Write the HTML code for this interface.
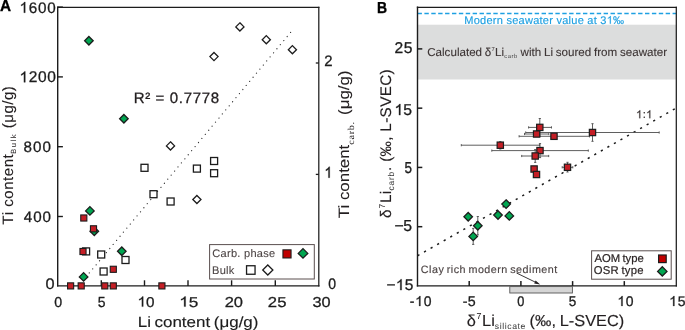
<!DOCTYPE html>
<html><head><meta charset="utf-8"><style>
html,body{margin:0;padding:0;background:#fff;}
svg{display:block;will-change:transform;}
text{font-family:"Liberation Sans", sans-serif;text-rendering:geometricPrecision;}
</style></head><body>
<svg width="685" height="330" viewBox="0 0 685 330">
<rect width="685" height="330" fill="#fff"/>
<line x1="57.70" y1="7.30" x2="318.80" y2="7.30" stroke="#1c1c1c" stroke-width="1.25" stroke-linecap="square"/>
<line x1="57.70" y1="7.30" x2="57.70" y2="285.90" stroke="#1c1c1c" stroke-width="1.4" stroke-linecap="square"/>
<line x1="318.80" y1="7.30" x2="318.80" y2="285.90" stroke="#1c1c1c" stroke-width="1.25" stroke-linecap="square"/>
<line x1="57.70" y1="285.90" x2="318.80" y2="285.90" stroke="#1c1c1c" stroke-width="1.4" stroke-linecap="square"/>
<line x1="101.30" y1="285.90" x2="101.30" y2="280.30" stroke="#1c1c1c" stroke-width="1.4" />
<line x1="144.50" y1="285.90" x2="144.50" y2="280.30" stroke="#1c1c1c" stroke-width="1.4" />
<line x1="188.00" y1="285.90" x2="188.00" y2="280.30" stroke="#1c1c1c" stroke-width="1.4" />
<line x1="231.60" y1="285.90" x2="231.60" y2="280.30" stroke="#1c1c1c" stroke-width="1.4" />
<line x1="275.30" y1="285.90" x2="275.30" y2="280.30" stroke="#1c1c1c" stroke-width="1.4" />
<line x1="57.70" y1="216.50" x2="62.90" y2="216.50" stroke="#1c1c1c" stroke-width="1.4" />
<line x1="57.70" y1="146.70" x2="62.90" y2="146.70" stroke="#1c1c1c" stroke-width="1.4" />
<line x1="57.70" y1="76.90" x2="62.90" y2="76.90" stroke="#1c1c1c" stroke-width="1.4" />
<line x1="57.70" y1="7.10" x2="62.90" y2="7.10" stroke="#1c1c1c" stroke-width="1.4" />
<line x1="318.80" y1="174.40" x2="315.80" y2="174.40" stroke="#1c1c1c" stroke-width="1.3" />
<line x1="318.80" y1="63.00" x2="315.80" y2="63.00" stroke="#1c1c1c" stroke-width="1.3" />
<line x1="290.6" y1="32.4" x2="84" y2="279.3" stroke="#333" stroke-width="1.2" stroke-linecap="round" stroke-dasharray="0.05 5.266" />
<rect x="82.60" y="247.90" width="7.00" height="7.00" fill="#fff" stroke="#1c1c1c" stroke-width="1.3"/>
<rect x="97.70" y="251.00" width="7.00" height="7.00" fill="#fff" stroke="#1c1c1c" stroke-width="1.3"/>
<rect x="122.00" y="256.50" width="7.00" height="7.00" fill="#fff" stroke="#1c1c1c" stroke-width="1.3"/>
<rect x="100.10" y="268.00" width="7.00" height="7.00" fill="#fff" stroke="#1c1c1c" stroke-width="1.3"/>
<rect x="141.00" y="164.30" width="7.00" height="7.00" fill="#fff" stroke="#1c1c1c" stroke-width="1.3"/>
<rect x="150.00" y="190.70" width="7.00" height="7.00" fill="#fff" stroke="#1c1c1c" stroke-width="1.3"/>
<rect x="167.10" y="198.00" width="7.00" height="7.00" fill="#fff" stroke="#1c1c1c" stroke-width="1.3"/>
<rect x="193.40" y="165.10" width="7.00" height="7.00" fill="#fff" stroke="#1c1c1c" stroke-width="1.3"/>
<rect x="210.60" y="157.50" width="7.00" height="7.00" fill="#fff" stroke="#1c1c1c" stroke-width="1.3"/>
<rect x="210.60" y="169.70" width="7.00" height="7.00" fill="#fff" stroke="#1c1c1c" stroke-width="1.3"/>
<path d="M170.50,141.82 L174.58,145.90 L170.50,149.98 L166.42,145.90 Z" fill="#fff" stroke="#1c1c1c" stroke-width="1.3" stroke-linejoin="miter"/>
<path d="M196.90,195.42 L200.98,199.50 L196.90,203.58 L192.82,199.50 Z" fill="#fff" stroke="#1c1c1c" stroke-width="1.3" stroke-linejoin="miter"/>
<path d="M214.00,52.52 L218.08,56.60 L214.00,60.68 L209.92,56.60 Z" fill="#fff" stroke="#1c1c1c" stroke-width="1.3" stroke-linejoin="miter"/>
<path d="M239.90,22.82 L243.98,26.90 L239.90,30.98 L235.82,26.90 Z" fill="#fff" stroke="#1c1c1c" stroke-width="1.3" stroke-linejoin="miter"/>
<path d="M266.30,35.62 L270.38,39.70 L266.30,43.78 L262.22,39.70 Z" fill="#fff" stroke="#1c1c1c" stroke-width="1.3" stroke-linejoin="miter"/>
<path d="M292.40,45.62 L296.48,49.70 L292.40,53.78 L288.32,49.70 Z" fill="#fff" stroke="#1c1c1c" stroke-width="1.3" stroke-linejoin="miter"/>
<path d="M88.90,36.52 L93.18,40.80 L88.90,45.08 L84.62,40.80 Z" fill="#00a651" stroke="#1c1c1c" stroke-width="1.3" stroke-linejoin="miter"/>
<path d="M123.90,114.52 L128.18,118.80 L123.90,123.08 L119.62,118.80 Z" fill="#00a651" stroke="#1c1c1c" stroke-width="1.3" stroke-linejoin="miter"/>
<path d="M89.90,206.62 L94.18,210.90 L89.90,215.18 L85.62,210.90 Z" fill="#00a651" stroke="#1c1c1c" stroke-width="1.3" stroke-linejoin="miter"/>
<path d="M94.30,226.92 L98.58,231.20 L94.30,235.48 L90.02,231.20 Z" fill="#00a651" stroke="#1c1c1c" stroke-width="1.3" stroke-linejoin="miter"/>
<path d="M121.80,247.02 L126.08,251.30 L121.80,255.58 L117.52,251.30 Z" fill="#00a651" stroke="#1c1c1c" stroke-width="1.3" stroke-linejoin="miter"/>
<path d="M83.60,272.62 L87.88,276.90 L83.60,281.18 L79.32,276.90 Z" fill="#00a651" stroke="#1c1c1c" stroke-width="1.3" stroke-linejoin="miter"/>
<rect x="67.55" y="282.85" width="6.10" height="6.10" fill="#c41e25" stroke="#1c1c1c" stroke-width="1.1"/>
<rect x="78.15" y="282.85" width="6.10" height="6.10" fill="#c41e25" stroke="#1c1c1c" stroke-width="1.1"/>
<rect x="101.75" y="282.85" width="6.10" height="6.10" fill="#c41e25" stroke="#1c1c1c" stroke-width="1.1"/>
<rect x="110.25" y="282.85" width="6.10" height="6.10" fill="#c41e25" stroke="#1c1c1c" stroke-width="1.1"/>
<rect x="158.85" y="282.85" width="6.10" height="6.10" fill="#c41e25" stroke="#1c1c1c" stroke-width="1.1"/>
<rect x="80.75" y="214.95" width="6.10" height="6.10" fill="#c41e25" stroke="#1c1c1c" stroke-width="1.1"/>
<rect x="90.45" y="225.75" width="6.10" height="6.10" fill="#c41e25" stroke="#1c1c1c" stroke-width="1.1"/>
<rect x="79.95" y="248.45" width="6.10" height="6.10" fill="#c41e25" stroke="#1c1c1c" stroke-width="1.1"/>
<rect x="110.25" y="266.25" width="6.10" height="6.10" fill="#c41e25" stroke="#1c1c1c" stroke-width="1.1"/>
<rect x="209.6" y="244.6" width="104.7" height="34.4" fill="#fff" stroke="#5a4f4f" stroke-width="1.0"/>
<g transform="translate(212.34,257.30) scale(1.0000,1)" fill="#4d4545" ><text x="0.00" y="0" font-size="11.04" font-weight="normal" stroke="#4d4545" stroke-width="0.100">C</text><text x="8.24" y="0" font-size="11.04" font-weight="normal" stroke="#4d4545" stroke-width="0.100">a</text><text x="14.65" y="0" font-size="11.04" font-weight="normal" stroke="#4d4545" stroke-width="0.100">r</text><text x="18.60" y="0" font-size="11.04" font-weight="normal" stroke="#4d4545" stroke-width="0.100">b</text><text x="25.01" y="0" font-size="11.04" font-weight="normal" stroke="#4d4545" stroke-width="0.100">.</text><text x="31.69" y="0" font-size="11.04" font-weight="normal" stroke="#4d4545" stroke-width="0.100">p</text><text x="38.10" y="0" font-size="11.04" font-weight="normal" stroke="#4d4545" stroke-width="0.100">h</text><text x="44.51" y="0" font-size="11.04" font-weight="normal" stroke="#4d4545" stroke-width="0.100">a</text><text x="50.92" y="0" font-size="11.04" font-weight="normal" stroke="#4d4545" stroke-width="0.100">s</text><text x="56.71" y="0" font-size="11.04" font-weight="normal" stroke="#4d4545" stroke-width="0.100">e</text></g>
<g transform="translate(211.99,273.90) scale(1.0000,1)" fill="#4d4545" ><text x="0.00" y="0" font-size="11.04" font-weight="normal" stroke="#4d4545" stroke-width="0.100">B</text><text x="7.67" y="0" font-size="11.04" font-weight="normal" stroke="#4d4545" stroke-width="0.100">u</text><text x="14.11" y="0" font-size="11.04" font-weight="normal" stroke="#4d4545" stroke-width="0.100">l</text><text x="16.87" y="0" font-size="11.04" font-weight="normal" stroke="#4d4545" stroke-width="0.100">k</text></g>
<rect x="282.95" y="249.85" width="8.10" height="8.10" fill="#c00000" stroke="#1c1c1c" stroke-width="1.1"/>
<path d="M303.00,248.62 L307.78,253.40 L303.00,258.18 L298.22,253.40 Z" fill="#00a651" stroke="#1c1c1c" stroke-width="1.3" stroke-linejoin="miter"/>
<rect x="246.55" y="265.75" width="8.50" height="8.50" fill="#fff" stroke="#1c1c1c" stroke-width="1.3"/>
<path d="M267.80,264.92 L272.88,270.00 L267.80,275.08 L262.72,270.00 Z" fill="#fff" stroke="#1c1c1c" stroke-width="1.3" stroke-linejoin="miter"/>
<g transform="translate(19.54,12.70) scale(1.0000,1)" fill="#1c1c1c" ><path d="M763 0H583V1147Q518 1085 412.5 1023Q307 961 223 930V1104Q374 1175 487 1276Q600 1377 647 1472H763Z" transform="translate(0.00,0) scale(0.00743,-0.00727)" stroke="#1c1c1c" stroke-width="0.300" vector-effect="non-scaling-stroke"/><text x="9.26" y="0" font-size="15.22" font-weight="normal" stroke="#1c1c1c" stroke-width="0.300">6</text><text x="18.53" y="0" font-size="15.22" font-weight="normal" stroke="#1c1c1c" stroke-width="0.300">0</text><text x="27.79" y="0" font-size="15.22" font-weight="normal" stroke="#1c1c1c" stroke-width="0.300">0</text></g>
<g transform="translate(19.51,82.30) scale(1.0000,1)" fill="#1c1c1c" ><path d="M763 0H583V1147Q518 1085 412.5 1023Q307 961 223 930V1104Q374 1175 487 1276Q600 1377 647 1472H763Z" transform="translate(0.00,0) scale(0.00757,-0.00740)" stroke="#1c1c1c" stroke-width="0.300" vector-effect="non-scaling-stroke"/><text x="9.29" y="0" font-size="15.50" font-weight="normal" stroke="#1c1c1c" stroke-width="0.300">2</text><text x="18.58" y="0" font-size="15.50" font-weight="normal" stroke="#1c1c1c" stroke-width="0.300">0</text><text x="27.87" y="0" font-size="15.50" font-weight="normal" stroke="#1c1c1c" stroke-width="0.300">0</text></g>
<g transform="translate(23.54,152.00) scale(1.0000,1)" fill="#1c1c1c" ><text x="0.00" y="0" font-size="15.18" font-weight="normal" stroke="#1c1c1c" stroke-width="0.300">8</text><text x="9.50" y="0" font-size="15.18" font-weight="normal" stroke="#1c1c1c" stroke-width="0.300">0</text><text x="19.01" y="0" font-size="15.18" font-weight="normal" stroke="#1c1c1c" stroke-width="0.300">0</text></g>
<g transform="translate(23.75,222.40) scale(1.0000,1)" fill="#1c1c1c" ><text x="0.00" y="0" font-size="15.18" font-weight="normal" stroke="#1c1c1c" stroke-width="0.300">4</text><text x="9.40" y="0" font-size="15.18" font-weight="normal" stroke="#1c1c1c" stroke-width="0.300">0</text><text x="18.80" y="0" font-size="15.18" font-weight="normal" stroke="#1c1c1c" stroke-width="0.300">0</text></g>
<g transform="translate(45.56,288.90) scale(1.0648,1)" fill="#1c1c1c" ><text x="0.00" y="0" font-size="15.32" font-weight="normal" stroke="#1c1c1c" stroke-width="0.282">0</text></g>
<g transform="translate(54.24,306.60) scale(0.9933,1)" fill="#1c1c1c" ><text x="0.00" y="0" font-size="14.32" font-weight="normal" stroke="#1c1c1c" stroke-width="0.302">0</text></g>
<g transform="translate(97.74,306.60) scale(0.9577,1)" fill="#1c1c1c" ><text x="0.00" y="0" font-size="14.54" font-weight="normal" stroke="#1c1c1c" stroke-width="0.313">5</text></g>
<g transform="translate(137.54,306.60) scale(1.0718,1)" fill="#1c1c1c" ><path d="M763 0H583V1147Q518 1085 412.5 1023Q307 961 223 930V1104Q374 1175 487 1276Q600 1377 647 1472H763Z" transform="translate(0.00,0) scale(0.00694,-0.00679)" stroke="#1c1c1c" stroke-width="0.300" vector-effect="non-scaling-stroke"/><text x="7.91" y="0" font-size="14.22" font-weight="normal" stroke="#1c1c1c" stroke-width="0.280">0</text></g>
<g transform="translate(179.23,306.60) scale(1.2067,1)" fill="#1c1c1c" ><path d="M763 0H583V1147Q518 1085 412.5 1023Q307 961 223 930V1104Q374 1175 487 1276Q600 1377 647 1472H763Z" transform="translate(0.00,0) scale(0.00694,-0.00679)" stroke="#1c1c1c" stroke-width="0.300" vector-effect="non-scaling-stroke"/><text x="7.91" y="0" font-size="14.22" font-weight="normal" stroke="#1c1c1c" stroke-width="0.249">5</text></g>
<g transform="translate(224.67,306.60) scale(1.1536,1)" fill="#1c1c1c" ><text x="0.00" y="0" font-size="14.32" font-weight="normal" stroke="#1c1c1c" stroke-width="0.260">2</text><text x="7.97" y="0" font-size="14.32" font-weight="normal" stroke="#1c1c1c" stroke-width="0.260">0</text></g>
<g transform="translate(267.86,306.60) scale(1.1637,1)" fill="#1c1c1c" ><text x="0.00" y="0" font-size="14.32" font-weight="normal" stroke="#1c1c1c" stroke-width="0.258">2</text><text x="7.97" y="0" font-size="14.32" font-weight="normal" stroke="#1c1c1c" stroke-width="0.258">5</text></g>
<g transform="translate(312.48,306.60) scale(1.1400,1)" fill="#1c1c1c" ><text x="0.00" y="0" font-size="14.32" font-weight="normal" stroke="#1c1c1c" stroke-width="0.263">3</text><text x="7.97" y="0" font-size="14.32" font-weight="normal" stroke="#1c1c1c" stroke-width="0.263">0</text></g>
<g transform="translate(324.15,65.90) scale(0.9832,1)" fill="#1c1c1c" ><text x="0.00" y="0" font-size="15.18" font-weight="normal" stroke="#1c1c1c" stroke-width="0.305">2</text></g>
<g transform="translate(324.33,177.70) scale(0.9297,1)" fill="#1c1c1c" ><path d="M763 0H583V1147Q518 1085 412.5 1023Q307 961 223 930V1104Q374 1175 487 1276Q600 1377 647 1472H763Z" transform="translate(0.00,0) scale(0.00757,-0.00740)" stroke="#1c1c1c" stroke-width="0.300" vector-effect="non-scaling-stroke"/></g>
<g transform="translate(328.35,289.30) scale(0.9146,1)" fill="#1c1c1c" ><text x="0.00" y="0" font-size="15.32" font-weight="normal" stroke="#1c1c1c" stroke-width="0.328">0</text></g>
<g transform="translate(133.67,102.80) scale(1.0000,1)" fill="#231f20" ><text x="0.00" y="0" font-size="15.04" font-weight="normal" stroke="#231f20" stroke-width="0.300">R</text><text x="11.50" y="0" font-size="15.04" font-weight="normal" stroke="#231f20" stroke-width="0.300">²</text><text x="21.96" y="0" font-size="15.04" font-weight="normal" stroke="#231f20" stroke-width="0.300">=</text><text x="36.20" y="0" font-size="15.04" font-weight="normal" stroke="#231f20" stroke-width="0.300">0</text><text x="45.20" y="0" font-size="15.04" font-weight="normal" stroke="#231f20" stroke-width="0.300">.</text><text x="50.02" y="0" font-size="15.04" font-weight="normal" stroke="#231f20" stroke-width="0.300">7</text><text x="59.02" y="0" font-size="15.04" font-weight="normal" stroke="#231f20" stroke-width="0.300">7</text><text x="68.02" y="0" font-size="15.04" font-weight="normal" stroke="#231f20" stroke-width="0.300">7</text><text x="77.02" y="0" font-size="15.04" font-weight="normal" stroke="#231f20" stroke-width="0.300">8</text></g>
<g transform="translate(137.71,326.60) scale(1.1392,1)" fill="#1c1c1c" ><text x="0.00" y="0" font-size="14.90" font-weight="normal" stroke="#1c1c1c" stroke-width="0.132">L</text><text x="8.29" y="0" font-size="14.90" font-weight="normal" stroke="#1c1c1c" stroke-width="0.132">i</text><text x="14.74" y="0" font-size="14.90" font-weight="normal" stroke="#1c1c1c" stroke-width="0.132">c</text><text x="22.19" y="0" font-size="14.90" font-weight="normal" stroke="#1c1c1c" stroke-width="0.132">o</text><text x="30.48" y="0" font-size="14.90" font-weight="normal" stroke="#1c1c1c" stroke-width="0.132">n</text><text x="38.77" y="0" font-size="14.90" font-weight="normal" stroke="#1c1c1c" stroke-width="0.132">t</text><text x="42.91" y="0" font-size="14.90" font-weight="normal" stroke="#1c1c1c" stroke-width="0.132">e</text><text x="51.20" y="0" font-size="14.90" font-weight="normal" stroke="#1c1c1c" stroke-width="0.132">n</text><text x="59.49" y="0" font-size="14.90" font-weight="normal" stroke="#1c1c1c" stroke-width="0.132">t</text><text x="66.77" y="0" font-size="14.90" font-weight="normal" stroke="#1c1c1c" stroke-width="0.132">(</text><text x="71.74" y="0" font-size="14.90" font-weight="normal" stroke="#1c1c1c" stroke-width="0.132">μ</text><text x="80.32" y="0" font-size="14.90" font-weight="normal" stroke="#1c1c1c" stroke-width="0.132">g</text><text x="88.61" y="0" font-size="14.90" font-weight="normal" stroke="#1c1c1c" stroke-width="0.132">/</text><text x="92.75" y="0" font-size="14.90" font-weight="normal" stroke="#1c1c1c" stroke-width="0.132">g</text><text x="101.04" y="0" font-size="14.90" font-weight="normal" stroke="#1c1c1c" stroke-width="0.132">)</text></g>
<g transform="translate(-0.08,10.90) scale(0.9690,1)" fill="#000" ><text x="0.00" y="0" font-size="15.84" font-weight="bold" stroke="#000" stroke-width="0.310">A</text></g>
<rect x="417.5" y="24.7" width="258.5" height="54.8" fill="#dcdddd"/>
<line x1="417.5" y1="13.5" x2="676.0" y2="13.5" stroke="#1ea0e2" stroke-width="1.3" stroke-dasharray="4.4 2.494"/>
<line x1="417.5" y1="255.8" x2="676.3" y2="108.0" stroke="#1c1c1c" stroke-width="1.5" stroke-dasharray="2.2 5.34"/>
<line x1="417.50" y1="7.30" x2="676.30" y2="7.30" stroke="#1c1c1c" stroke-width="1.25" stroke-linecap="square"/>
<line x1="417.50" y1="7.30" x2="417.50" y2="285.90" stroke="#1c1c1c" stroke-width="1.4" stroke-linecap="square"/>
<line x1="676.30" y1="7.30" x2="676.30" y2="285.90" stroke="#1c1c1c" stroke-width="1.25" stroke-linecap="square"/>
<line x1="417.50" y1="285.90" x2="676.30" y2="285.90" stroke="#1c1c1c" stroke-width="1.4" stroke-linecap="square"/>
<line x1="469.20" y1="285.90" x2="469.20" y2="281.10" stroke="#1c1c1c" stroke-width="1.5" />
<line x1="520.90" y1="285.90" x2="520.90" y2="281.10" stroke="#1c1c1c" stroke-width="1.5" />
<line x1="572.60" y1="285.90" x2="572.60" y2="281.10" stroke="#1c1c1c" stroke-width="1.5" />
<line x1="624.30" y1="285.90" x2="624.30" y2="281.10" stroke="#1c1c1c" stroke-width="1.5" />
<line x1="417.50" y1="226.70" x2="422.30" y2="226.70" stroke="#1c1c1c" stroke-width="1.5" />
<line x1="417.50" y1="167.43" x2="422.30" y2="167.43" stroke="#1c1c1c" stroke-width="1.5" />
<line x1="417.50" y1="108.16" x2="422.30" y2="108.16" stroke="#1c1c1c" stroke-width="1.5" />
<line x1="417.50" y1="48.89" x2="422.30" y2="48.89" stroke="#1c1c1c" stroke-width="1.5" />
<line x1="525.70" y1="132.50" x2="659.20" y2="132.50" stroke="#4d4d4d" stroke-width="0.9" />
<line x1="525.70" y1="131.40" x2="525.70" y2="133.60" stroke="#4d4d4d" stroke-width="0.9" />
<line x1="659.20" y1="131.40" x2="659.20" y2="133.60" stroke="#4d4d4d" stroke-width="0.9" />
<line x1="592.50" y1="123.70" x2="592.50" y2="141.30" stroke="#4d4d4d" stroke-width="0.9" />
<line x1="591.40" y1="123.70" x2="593.60" y2="123.70" stroke="#4d4d4d" stroke-width="0.9" />
<line x1="591.40" y1="141.30" x2="593.60" y2="141.30" stroke="#4d4d4d" stroke-width="0.9" />
<line x1="519.10" y1="136.30" x2="589.50" y2="136.30" stroke="#4d4d4d" stroke-width="0.9" />
<line x1="519.10" y1="135.20" x2="519.10" y2="137.40" stroke="#4d4d4d" stroke-width="0.9" />
<line x1="589.50" y1="135.20" x2="589.50" y2="137.40" stroke="#4d4d4d" stroke-width="0.9" />
<line x1="524.50" y1="134.00" x2="548.80" y2="134.00" stroke="#4d4d4d" stroke-width="0.9" />
<line x1="524.50" y1="132.90" x2="524.50" y2="135.10" stroke="#4d4d4d" stroke-width="0.9" />
<line x1="548.80" y1="132.90" x2="548.80" y2="135.10" stroke="#4d4d4d" stroke-width="0.9" />
<line x1="528.60" y1="127.40" x2="551.50" y2="127.40" stroke="#4d4d4d" stroke-width="0.9" />
<line x1="528.60" y1="126.30" x2="528.60" y2="128.50" stroke="#4d4d4d" stroke-width="0.9" />
<line x1="551.50" y1="126.30" x2="551.50" y2="128.50" stroke="#4d4d4d" stroke-width="0.9" />
<line x1="539.80" y1="118.50" x2="539.80" y2="136.30" stroke="#4d4d4d" stroke-width="0.9" />
<line x1="538.70" y1="118.50" x2="540.90" y2="118.50" stroke="#4d4d4d" stroke-width="0.9" />
<line x1="538.70" y1="136.30" x2="540.90" y2="136.30" stroke="#4d4d4d" stroke-width="0.9" />
<line x1="461.30" y1="145.20" x2="539.50" y2="145.20" stroke="#4d4d4d" stroke-width="0.9" />
<line x1="461.30" y1="144.10" x2="461.30" y2="146.30" stroke="#4d4d4d" stroke-width="0.9" />
<line x1="539.50" y1="144.10" x2="539.50" y2="146.30" stroke="#4d4d4d" stroke-width="0.9" />
<line x1="500.30" y1="141.60" x2="500.30" y2="149.00" stroke="#4d4d4d" stroke-width="0.9" />
<line x1="499.20" y1="141.60" x2="501.40" y2="141.60" stroke="#4d4d4d" stroke-width="0.9" />
<line x1="499.20" y1="149.00" x2="501.40" y2="149.00" stroke="#4d4d4d" stroke-width="0.9" />
<line x1="491.80" y1="150.60" x2="588.30" y2="150.60" stroke="#4d4d4d" stroke-width="0.9" />
<line x1="491.80" y1="149.50" x2="491.80" y2="151.70" stroke="#4d4d4d" stroke-width="0.9" />
<line x1="588.30" y1="149.50" x2="588.30" y2="151.70" stroke="#4d4d4d" stroke-width="0.9" />
<line x1="540.00" y1="143.60" x2="540.00" y2="157.60" stroke="#4d4d4d" stroke-width="0.9" />
<line x1="538.90" y1="143.60" x2="541.10" y2="143.60" stroke="#4d4d4d" stroke-width="0.9" />
<line x1="538.90" y1="157.60" x2="541.10" y2="157.60" stroke="#4d4d4d" stroke-width="0.9" />
<line x1="521.70" y1="156.00" x2="548.70" y2="156.00" stroke="#4d4d4d" stroke-width="0.9" />
<line x1="521.70" y1="154.90" x2="521.70" y2="157.10" stroke="#4d4d4d" stroke-width="0.9" />
<line x1="548.70" y1="154.90" x2="548.70" y2="157.10" stroke="#4d4d4d" stroke-width="0.9" />
<line x1="535.20" y1="149.60" x2="535.20" y2="162.40" stroke="#4d4d4d" stroke-width="0.9" />
<line x1="534.10" y1="149.60" x2="536.30" y2="149.60" stroke="#4d4d4d" stroke-width="0.9" />
<line x1="534.10" y1="162.40" x2="536.30" y2="162.40" stroke="#4d4d4d" stroke-width="0.9" />
<line x1="562.20" y1="167.30" x2="572.80" y2="167.30" stroke="#4d4d4d" stroke-width="0.9" />
<line x1="562.20" y1="166.20" x2="562.20" y2="168.40" stroke="#4d4d4d" stroke-width="0.9" />
<line x1="572.80" y1="166.20" x2="572.80" y2="168.40" stroke="#4d4d4d" stroke-width="0.9" />
<line x1="567.50" y1="162.30" x2="567.50" y2="172.00" stroke="#4d4d4d" stroke-width="0.9" />
<line x1="566.40" y1="162.30" x2="568.60" y2="162.30" stroke="#4d4d4d" stroke-width="0.9" />
<line x1="566.40" y1="172.00" x2="568.60" y2="172.00" stroke="#4d4d4d" stroke-width="0.9" />
<line x1="477.80" y1="216.50" x2="477.80" y2="234.90" stroke="#4d4d4d" stroke-width="0.9" />
<line x1="476.70" y1="216.50" x2="478.90" y2="216.50" stroke="#4d4d4d" stroke-width="0.9" />
<line x1="476.70" y1="234.90" x2="478.90" y2="234.90" stroke="#4d4d4d" stroke-width="0.9" />
<line x1="473.20" y1="228.40" x2="473.20" y2="244.40" stroke="#4d4d4d" stroke-width="0.9" />
<line x1="472.10" y1="228.40" x2="474.30" y2="228.40" stroke="#4d4d4d" stroke-width="0.9" />
<line x1="472.10" y1="244.40" x2="474.30" y2="244.40" stroke="#4d4d4d" stroke-width="0.9" />
<path d="M468.20,212.52 L472.48,216.80 L468.20,221.08 L463.92,216.80 Z" fill="#00a651" stroke="#1c1c1c" stroke-width="1.3" stroke-linejoin="miter"/>
<path d="M477.80,221.42 L482.08,225.70 L477.80,229.98 L473.52,225.70 Z" fill="#00a651" stroke="#1c1c1c" stroke-width="1.3" stroke-linejoin="miter"/>
<path d="M473.20,232.12 L477.48,236.40 L473.20,240.68 L468.92,236.40 Z" fill="#00a651" stroke="#1c1c1c" stroke-width="1.3" stroke-linejoin="miter"/>
<path d="M498.00,210.72 L502.28,215.00 L498.00,219.28 L493.72,215.00 Z" fill="#00a651" stroke="#1c1c1c" stroke-width="1.3" stroke-linejoin="miter"/>
<path d="M506.10,199.82 L510.38,204.10 L506.10,208.38 L501.82,204.10 Z" fill="#00a651" stroke="#1c1c1c" stroke-width="1.3" stroke-linejoin="miter"/>
<path d="M509.30,211.62 L513.58,215.90 L509.30,220.18 L505.02,215.90 Z" fill="#00a651" stroke="#1c1c1c" stroke-width="1.3" stroke-linejoin="miter"/>
<rect x="589.35" y="129.35" width="6.30" height="6.30" fill="#c41e25" stroke="#1c1c1c" stroke-width="1.2"/>
<rect x="550.85" y="133.15" width="6.30" height="6.30" fill="#c41e25" stroke="#1c1c1c" stroke-width="1.2"/>
<rect x="533.45" y="130.85" width="6.30" height="6.30" fill="#c41e25" stroke="#1c1c1c" stroke-width="1.2"/>
<rect x="536.65" y="124.25" width="6.30" height="6.30" fill="#c41e25" stroke="#1c1c1c" stroke-width="1.2"/>
<rect x="497.15" y="142.05" width="6.30" height="6.30" fill="#c41e25" stroke="#1c1c1c" stroke-width="1.2"/>
<rect x="536.85" y="147.45" width="6.30" height="6.30" fill="#c41e25" stroke="#1c1c1c" stroke-width="1.2"/>
<rect x="532.05" y="152.85" width="6.30" height="6.30" fill="#c41e25" stroke="#1c1c1c" stroke-width="1.2"/>
<rect x="530.95" y="165.85" width="6.30" height="6.30" fill="#c41e25" stroke="#1c1c1c" stroke-width="1.2"/>
<rect x="533.35" y="171.35" width="6.30" height="6.30" fill="#c41e25" stroke="#1c1c1c" stroke-width="1.2"/>
<rect x="564.35" y="164.15" width="6.30" height="6.30" fill="#c41e25" stroke="#1c1c1c" stroke-width="1.2"/>
<rect x="509.8" y="286.6" width="62.6" height="6.4" fill="#d5d5d5" stroke="#555" stroke-width="0.9"/>
<line x1="516.50" y1="273.00" x2="537.50" y2="283.20" stroke="#231f20" stroke-width="0.9" />
<path d="M540.2,284.4 L535.6,280.6 L534.2,283.4 Z" fill="#231f20"/>
<g transform="translate(420.85,272.80) scale(1.0000,1)" fill="#4d4545" ><text x="0.00" y="0" font-size="10.76" font-weight="normal" stroke="#4d4545" stroke-width="0.150">C</text><text x="8.25" y="0" font-size="10.76" font-weight="normal" stroke="#4d4545" stroke-width="0.150">l</text><text x="11.12" y="0" font-size="10.76" font-weight="normal" stroke="#4d4545" stroke-width="0.150">a</text><text x="17.58" y="0" font-size="10.76" font-weight="normal" stroke="#4d4545" stroke-width="0.150">y</text><text x="25.90" y="0" font-size="10.76" font-weight="normal" stroke="#4d4545" stroke-width="0.150">r</text><text x="29.96" y="0" font-size="10.76" font-weight="normal" stroke="#4d4545" stroke-width="0.150">i</text><text x="32.83" y="0" font-size="10.76" font-weight="normal" stroke="#4d4545" stroke-width="0.150">c</text><text x="38.68" y="0" font-size="10.76" font-weight="normal" stroke="#4d4545" stroke-width="0.150">h</text><text x="47.61" y="0" font-size="10.76" font-weight="normal" stroke="#4d4545" stroke-width="0.150">m</text><text x="57.05" y="0" font-size="10.76" font-weight="normal" stroke="#4d4545" stroke-width="0.150">o</text><text x="63.51" y="0" font-size="10.76" font-weight="normal" stroke="#4d4545" stroke-width="0.150">d</text><text x="69.97" y="0" font-size="10.76" font-weight="normal" stroke="#4d4545" stroke-width="0.150">e</text><text x="76.44" y="0" font-size="10.76" font-weight="normal" stroke="#4d4545" stroke-width="0.150">r</text><text x="80.50" y="0" font-size="10.76" font-weight="normal" stroke="#4d4545" stroke-width="0.150">n</text><text x="89.42" y="0" font-size="10.76" font-weight="normal" stroke="#4d4545" stroke-width="0.150">s</text><text x="95.28" y="0" font-size="10.76" font-weight="normal" stroke="#4d4545" stroke-width="0.150">e</text><text x="101.74" y="0" font-size="10.76" font-weight="normal" stroke="#4d4545" stroke-width="0.150">d</text><text x="108.20" y="0" font-size="10.76" font-weight="normal" stroke="#4d4545" stroke-width="0.150">i</text><text x="111.07" y="0" font-size="10.76" font-weight="normal" stroke="#4d4545" stroke-width="0.150">m</text><text x="120.51" y="0" font-size="10.76" font-weight="normal" stroke="#4d4545" stroke-width="0.150">e</text><text x="126.97" y="0" font-size="10.76" font-weight="normal" stroke="#4d4545" stroke-width="0.150">n</text><text x="133.43" y="0" font-size="10.76" font-weight="normal" stroke="#4d4545" stroke-width="0.150">t</text></g>
<g transform="translate(636.08,118.20) scale(1.0000,1)" fill="#3a3333" ><path d="M763 0H583V1147Q518 1085 412.5 1023Q307 961 223 930V1104Q374 1175 487 1276Q600 1377 647 1472H763Z" transform="translate(0.00,0) scale(0.00549,-0.00537)" stroke="#3a3333" stroke-width="0.200" vector-effect="non-scaling-stroke"/><text x="6.58" y="0" font-size="11.24" font-weight="normal" stroke="#3a3333" stroke-width="0.200">:</text><path d="M763 0H583V1147Q518 1085 412.5 1023Q307 961 223 930V1104Q374 1175 487 1276Q600 1377 647 1472H763Z" transform="translate(10.04,0) scale(0.00549,-0.00537)" stroke="#3a3333" stroke-width="0.200" vector-effect="non-scaling-stroke"/></g>
<g transform="translate(464.29,23.70) scale(1.0000,1)" fill="#1ea0e2" ><text x="0.00" y="0" font-size="11.04" font-weight="normal" stroke="#1ea0e2" stroke-width="0.150">M</text><text x="9.43" y="0" font-size="11.04" font-weight="normal" stroke="#1ea0e2" stroke-width="0.150">o</text><text x="15.81" y="0" font-size="11.04" font-weight="normal" stroke="#1ea0e2" stroke-width="0.150">d</text><text x="22.19" y="0" font-size="11.04" font-weight="normal" stroke="#1ea0e2" stroke-width="0.150">e</text><text x="28.56" y="0" font-size="11.04" font-weight="normal" stroke="#1ea0e2" stroke-width="0.150">r</text><text x="32.48" y="0" font-size="11.04" font-weight="normal" stroke="#1ea0e2" stroke-width="0.150">n</text><text x="42.16" y="0" font-size="11.04" font-weight="normal" stroke="#1ea0e2" stroke-width="0.150">s</text><text x="47.91" y="0" font-size="11.04" font-weight="normal" stroke="#1ea0e2" stroke-width="0.150">e</text><text x="54.29" y="0" font-size="11.04" font-weight="normal" stroke="#1ea0e2" stroke-width="0.150">a</text><text x="60.67" y="0" font-size="11.04" font-weight="normal" stroke="#1ea0e2" stroke-width="0.150">w</text><text x="68.88" y="0" font-size="11.04" font-weight="normal" stroke="#1ea0e2" stroke-width="0.150">a</text><text x="75.25" y="0" font-size="11.04" font-weight="normal" stroke="#1ea0e2" stroke-width="0.150">t</text><text x="78.56" y="0" font-size="11.04" font-weight="normal" stroke="#1ea0e2" stroke-width="0.150">e</text><text x="84.93" y="0" font-size="11.04" font-weight="normal" stroke="#1ea0e2" stroke-width="0.150">r</text><text x="92.15" y="0" font-size="11.04" font-weight="normal" stroke="#1ea0e2" stroke-width="0.150">v</text><text x="97.91" y="0" font-size="11.04" font-weight="normal" stroke="#1ea0e2" stroke-width="0.150">a</text><text x="104.28" y="0" font-size="11.04" font-weight="normal" stroke="#1ea0e2" stroke-width="0.150">l</text><text x="106.97" y="0" font-size="11.04" font-weight="normal" stroke="#1ea0e2" stroke-width="0.150">u</text><text x="113.35" y="0" font-size="11.04" font-weight="normal" stroke="#1ea0e2" stroke-width="0.150">e</text><text x="123.03" y="0" font-size="11.04" font-weight="normal" stroke="#1ea0e2" stroke-width="0.150">a</text><text x="129.41" y="0" font-size="11.04" font-weight="normal" stroke="#1ea0e2" stroke-width="0.150">t</text><text x="136.01" y="0" font-size="11.04" font-weight="normal" stroke="#1ea0e2" stroke-width="0.150">3</text><path d="M763 0H583V1147Q518 1085 412.5 1023Q307 961 223 930V1104Q374 1175 487 1276Q600 1377 647 1472H763Z" transform="translate(142.39,0) scale(0.00539,-0.00527)" stroke="#1ea0e2" stroke-width="0.150" vector-effect="non-scaling-stroke"/><text x="148.77" y="0" font-size="11.04" font-weight="normal" stroke="#1ea0e2" stroke-width="0.150">‰</text></g>
<rect x="591.6" y="250.8" width="79.6" height="28.4" fill="#fff" stroke="#5a4f4f" stroke-width="1.0"/>
<g transform="translate(594.38,262.10) scale(1.0000,1)" fill="#2d2626" ><text x="0.00" y="0" font-size="11.31" font-weight="normal" stroke="#2d2626" stroke-width="0.200">A</text><text x="7.54" y="0" font-size="11.31" font-weight="normal" stroke="#2d2626" stroke-width="0.200">O</text><text x="16.33" y="0" font-size="11.31" font-weight="normal" stroke="#2d2626" stroke-width="0.200">M</text><text x="28.07" y="0" font-size="11.31" font-weight="normal" stroke="#2d2626" stroke-width="0.200">t</text><text x="31.20" y="0" font-size="11.31" font-weight="normal" stroke="#2d2626" stroke-width="0.200">y</text><text x="36.85" y="0" font-size="11.31" font-weight="normal" stroke="#2d2626" stroke-width="0.200">p</text><text x="43.13" y="0" font-size="11.31" font-weight="normal" stroke="#2d2626" stroke-width="0.200">e</text></g>
<g transform="translate(593.86,273.70) scale(1.0000,1)" fill="#2d2626" ><text x="0.00" y="0" font-size="11.31" font-weight="normal" stroke="#2d2626" stroke-width="0.200">O</text><text x="9.00" y="0" font-size="11.31" font-weight="normal" stroke="#2d2626" stroke-width="0.200">S</text><text x="16.74" y="0" font-size="11.31" font-weight="normal" stroke="#2d2626" stroke-width="0.200">R</text><text x="27.66" y="0" font-size="11.31" font-weight="normal" stroke="#2d2626" stroke-width="0.200">t</text><text x="31.00" y="0" font-size="11.31" font-weight="normal" stroke="#2d2626" stroke-width="0.200">y</text><text x="36.85" y="0" font-size="11.31" font-weight="normal" stroke="#2d2626" stroke-width="0.200">p</text><text x="43.35" y="0" font-size="11.31" font-weight="normal" stroke="#2d2626" stroke-width="0.200">e</text></g>
<rect x="658.60" y="255.00" width="7.60" height="7.60" fill="#c00000" stroke="#1c1c1c" stroke-width="1.2"/>
<path d="M662.30,266.72 L666.98,271.40 L662.30,276.08 L657.62,271.40 Z" fill="#00a651" stroke="#1c1c1c" stroke-width="1.3" stroke-linejoin="miter"/>
<g transform="translate(394.51,52.80) scale(1.0000,1)" fill="#1c1c1c" ><text x="0.00" y="0" font-size="15.61" font-weight="normal" stroke="#1c1c1c" stroke-width="0.300">2</text><text x="9.36" y="0" font-size="15.61" font-weight="normal" stroke="#1c1c1c" stroke-width="0.300">5</text></g>
<g transform="translate(394.48,115.10) scale(1.0000,1)" fill="#1c1c1c" ><path d="M763 0H583V1147Q518 1085 412.5 1023Q307 961 223 930V1104Q374 1175 487 1276Q600 1377 647 1472H763Z" transform="translate(0.00,0) scale(0.00771,-0.00754)" stroke="#1c1c1c" stroke-width="0.300" vector-effect="non-scaling-stroke"/><text x="8.80" y="0" font-size="15.79" font-weight="normal" stroke="#1c1c1c" stroke-width="0.300">5</text></g>
<g transform="translate(404.46,173.10) scale(0.8520,1)" fill="#1c1c1c" ><text x="0.00" y="0" font-size="15.84" font-weight="normal" stroke="#1c1c1c" stroke-width="0.352">5</text></g>
<g transform="translate(394.52,230.80) scale(1.0000,1)" fill="#1c1c1c" ><text x="0.00" y="0" font-size="15.84" font-weight="normal" stroke="#1c1c1c" stroke-width="0.300">−</text><text x="8.74" y="0" font-size="15.84" font-weight="normal" stroke="#1c1c1c" stroke-width="0.300">5</text></g>
<g transform="translate(386.54,290.10) scale(1.0000,1)" fill="#1c1c1c" ><text x="0.00" y="0" font-size="15.50" font-weight="normal" stroke="#1c1c1c" stroke-width="0.300">−</text><path d="M763 0H583V1147Q518 1085 412.5 1023Q307 961 223 930V1104Q374 1175 487 1276Q600 1377 647 1472H763Z" transform="translate(9.31,0) scale(0.00757,-0.00740)" stroke="#1c1c1c" stroke-width="0.300" vector-effect="non-scaling-stroke"/><text x="18.19" y="0" font-size="15.50" font-weight="normal" stroke="#1c1c1c" stroke-width="0.300">5</text></g>
<g transform="translate(409.78,305.90) scale(1.0000,1)" fill="#1c1c1c" ><text x="0.00" y="0" font-size="13.94" font-weight="normal" stroke="#1c1c1c" stroke-width="0.300">-</text><path d="M763 0H583V1147Q518 1085 412.5 1023Q307 961 223 930V1104Q374 1175 487 1276Q600 1377 647 1472H763Z" transform="translate(5.40,0) scale(0.00681,-0.00666)" stroke="#1c1c1c" stroke-width="0.300" vector-effect="non-scaling-stroke"/><text x="13.91" y="0" font-size="13.94" font-weight="normal" stroke="#1c1c1c" stroke-width="0.300">0</text></g>
<g transform="translate(462.87,305.90) scale(1.0000,1)" fill="#1c1c1c" ><text x="0.00" y="0" font-size="14.24" font-weight="normal" stroke="#1c1c1c" stroke-width="0.300">-</text><text x="5.01" y="0" font-size="14.24" font-weight="normal" stroke="#1c1c1c" stroke-width="0.300">5</text></g>
<g transform="translate(517.20,305.90) scale(0.9092,1)" fill="#1c1c1c" ><text x="0.00" y="0" font-size="14.04" font-weight="normal" stroke="#1c1c1c" stroke-width="0.330">0</text></g>
<g transform="translate(568.86,305.90) scale(0.9476,1)" fill="#1c1c1c" ><text x="0.00" y="0" font-size="14.24" font-weight="normal" stroke="#1c1c1c" stroke-width="0.317">5</text></g>
<g transform="translate(617.38,305.90) scale(1.0000,1)" fill="#1c1c1c" ><path d="M763 0H583V1147Q518 1085 412.5 1023Q307 961 223 930V1104Q374 1175 487 1276Q600 1377 647 1472H763Z" transform="translate(0.00,0) scale(0.00681,-0.00666)" stroke="#1c1c1c" stroke-width="0.300" vector-effect="non-scaling-stroke"/><text x="8.41" y="0" font-size="13.94" font-weight="normal" stroke="#1c1c1c" stroke-width="0.300">0</text></g>
<g transform="translate(669.18,305.90) scale(1.0000,1)" fill="#1c1c1c" ><path d="M763 0H583V1147Q518 1085 412.5 1023Q307 961 223 930V1104Q374 1175 487 1276Q600 1377 647 1472H763Z" transform="translate(0.00,0) scale(0.00681,-0.00666)" stroke="#1c1c1c" stroke-width="0.300" vector-effect="non-scaling-stroke"/><text x="8.55" y="0" font-size="13.94" font-weight="normal" stroke="#1c1c1c" stroke-width="0.300">5</text></g>
<g transform="translate(377.07,12.70) scale(0.8797,1)" fill="#000" ><text x="0.00" y="0" font-size="15.84" font-weight="bold" stroke="#000" stroke-width="0.341">B</text></g>
<g transform="translate(13.20,224.50) rotate(-90) scale(1.0000,1)" >
<text x="0.00" y="0.00" font-size="15.00" style='font-family:"Liberation Sans", sans-serif' font-weight="normal" fill="#231f20" stroke="#231f20" stroke-width="0.100" letter-spacing="0.541" xml:space="preserve">Ti content</text>
<text x="70.72" y="2.70" font-size="7.50" style='font-family:"Liberation Sans", sans-serif' font-weight="normal" fill="#231f20" stroke="#231f20" stroke-width="0.030" letter-spacing="1.541" xml:space="preserve">Bulk</text>
<text x="91.48" y="0.00" font-size="15.00" style='font-family:"Liberation Sans", sans-serif' font-weight="normal" fill="#231f20" stroke="#231f20" stroke-width="0.100" letter-spacing="0.541" xml:space="preserve"> (μg/g)</text>
</g>
<g transform="translate(349.00,218.24) rotate(-90) scale(1.1261,1)" >
<text x="0.00" y="0.00" font-size="15.00" style='font-family:"Liberation Sans", sans-serif' font-weight="normal" fill="#231f20" stroke="#231f20" stroke-width="0.089" xml:space="preserve">Ti content</text>
<text x="65.31" y="5.25" font-size="9.00" style='font-family:"Liberation Serif", serif' font-weight="normal" fill="#231f20" stroke="#231f20" stroke-width="0.027" letter-spacing="0.600" xml:space="preserve">carb.</text>
<text x="87.55" y="0.00" font-size="15.00" style='font-family:"Liberation Sans", sans-serif' font-weight="normal" fill="#231f20" stroke="#231f20" stroke-width="0.089" xml:space="preserve"> (μg/g)</text>
</g>
<g transform="translate(391.30,217.91) rotate(-90) scale(1.0000,1)" >
<text x="0.00" y="0.00" font-size="15.30" style='font-family:"Liberation Sans", sans-serif' font-weight="normal" fill="#231f20" stroke="#231f20" stroke-width="0.150" letter-spacing="0.323" xml:space="preserve">δ</text>
<text x="9.44" y="-6.43" font-size="8.42" style='font-family:"Liberation Sans", sans-serif' font-weight="normal" fill="#231f20" stroke="#231f20" stroke-width="0.045" letter-spacing="0.323" xml:space="preserve">7</text>
<text x="14.94" y="0.00" font-size="15.30" style='font-family:"Liberation Sans", sans-serif' font-weight="normal" fill="#231f20" stroke="#231f20" stroke-width="0.150" letter-spacing="0.323" xml:space="preserve">Li</text>
<text x="27.50" y="3.06" font-size="8.42" style='font-family:"Liberation Sans", sans-serif' font-weight="normal" fill="#3a3a3a" stroke="#3a3a3a" stroke-width="0.045" letter-spacing="0.773" xml:space="preserve">carb</text>
<text x="46.96" y="0.00" font-size="15.30" style='font-family:"Liberation Sans", sans-serif' font-weight="normal" fill="#231f20" stroke="#231f20" stroke-width="0.150" letter-spacing="0.323" xml:space="preserve">. (‰, L-SVEC)</text>
</g>
<g transform="translate(466.85,325.90) scale(1.0297,1)" >
<text x="0.00" y="0.00" font-size="15.90" style='font-family:"Liberation Sans", sans-serif' font-weight="normal" fill="#231f20" stroke="#231f20" stroke-width="0.146" word-spacing="-0.800" xml:space="preserve">δ</text>
<text x="9.45" y="-6.68" font-size="8.75" style='font-family:"Liberation Sans", sans-serif' font-weight="normal" fill="#231f20" stroke="#231f20" stroke-width="0.044" word-spacing="-0.800" xml:space="preserve">7</text>
<text x="14.81" y="0.00" font-size="15.90" style='font-family:"Liberation Sans", sans-serif' font-weight="normal" fill="#231f20" stroke="#231f20" stroke-width="0.146" word-spacing="-0.800" xml:space="preserve">Li</text>
<text x="27.19" y="3.18" font-size="8.43" style='font-family:"Liberation Sans", sans-serif' font-weight="normal" fill="#444" stroke="#444" stroke-width="0.044" letter-spacing="0.550" word-spacing="-0.800" xml:space="preserve">silicate</text>
<text x="57.35" y="0.00" font-size="15.90" style='font-family:"Liberation Sans", sans-serif' font-weight="normal" fill="#231f20" stroke="#231f20" stroke-width="0.146" word-spacing="-0.800" xml:space="preserve"> (‰, L-SVEC)</text>
</g>
<g transform="translate(427.17,55.80) scale(1.0105,1)" >
<text x="0.00" y="0.00" font-size="11.50" style='font-family:"Liberation Sans", sans-serif' font-weight="normal" fill="#3d3535" stroke="#3d3535" stroke-width="0.099" word-spacing="-0.500" xml:space="preserve">Calculated δ</text>
<text x="63.74" y="-4.83" font-size="5.75" style='font-family:"Liberation Sans", sans-serif' font-weight="normal" fill="#3d3535" stroke="#3d3535" stroke-width="0.030" word-spacing="-0.500" xml:space="preserve">7</text>
<text x="67.23" y="0.00" font-size="11.50" style='font-family:"Liberation Sans", sans-serif' font-weight="normal" fill="#3d3535" stroke="#3d3535" stroke-width="0.099" word-spacing="-0.500" xml:space="preserve">Li</text>
<text x="76.19" y="2.30" font-size="5.75" style='font-family:"Liberation Sans", sans-serif' font-weight="normal" fill="#4a4a4a" stroke="#4a4a4a" stroke-width="0.030" letter-spacing="0.600" word-spacing="-0.500" xml:space="preserve">carb</text>
<text x="89.77" y="0.00" font-size="11.50" style='font-family:"Liberation Sans", sans-serif' font-weight="normal" fill="#3d3535" stroke="#3d3535" stroke-width="0.099" word-spacing="-0.500" xml:space="preserve"> with Li soured from seawater</text>
</g>
</svg>
</body></html>
